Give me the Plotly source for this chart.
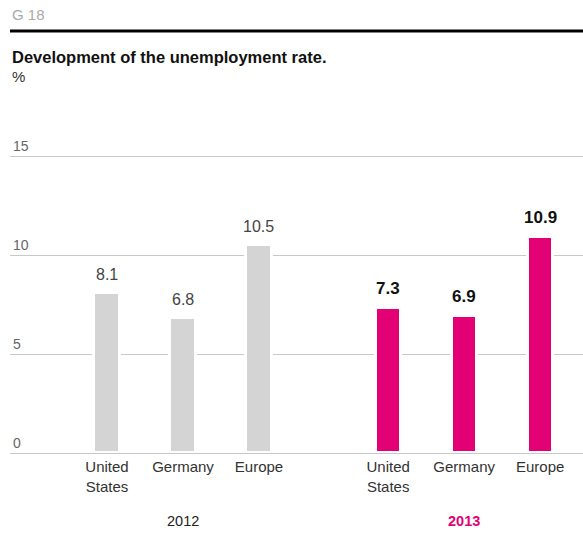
import plotly.graph_objects as go

categories = ["United<br>States", "Germany", "Europe"]
years = ["2012", "2013"]
values_2012 = [8.1, 6.8, 10.5]
values_2013 = [7.3, 6.9, 10.9]
y_ticks = [0, 5, 10, 15]

GREY = "#d4d4d4"
MAGENTA = "#e20074"
FONT = "Liberation Sans, Arial"
GROUP_OFFSET = 3.7

W, H = 583, 546
M_L, M_R, M_T, M_B = 10, 0, 136, 93
PLOT_H = H - M_T - M_B
PX_PER_UNIT = 19.8
Y_MAX = PLOT_H / PX_PER_UNIT

x2012 = [i for i in range(len(categories))]
x2013 = [i + GROUP_OFFSET for i in range(len(categories))]


def px_to_paper_x(px):
    return (px - M_L) / (W - M_L - M_R)


def px_to_paper_y(py):
    return (H - M_B - py) / PLOT_H


fig = go.Figure()
for xs, vals, col in [(x2012, values_2012, GREY), (x2013, values_2013, MAGENTA)]:
    fig.add_trace(go.Bar(x=xs, y=vals, width=0.33, marker=dict(color=col, line=dict(color="white", width=3)),
                         hoverinfo="skip", showlegend=False))

for xs, vals, bold in [(x2012, values_2012, False), (x2013, values_2013, True)]:
    for x, v in zip(xs, vals):
        fig.add_annotation(x=x, y=v, xref="x", yref="y", text=(f"<b>{v}</b>" if bold else f"{v}"),
                           showarrow=False, yanchor="bottom", yshift=8,
                           font=dict(family=FONT, size=17 if bold else 16, color="#111" if bold else "#444"))

for xs, yr, col, bold in [(x2012, years[0], "#222", False), (x2013, years[1], MAGENTA, True)]:
    fig.add_annotation(x=sum(xs) / len(xs), y=px_to_paper_y(521), xref="x", yref="paper",
                       text=(f"<b>{yr}</b>" if bold else yr), yanchor="middle",
                       showarrow=False, font=dict(family=FONT, size=14.5, color=col))

fig.update_layout(
    width=W, height=H,
    margin=dict(l=M_L, r=M_R, t=M_T, b=M_B),
    plot_bgcolor="white", paper_bgcolor="white",
    bargap=0,
    xaxis=dict(range=[-1.276, 6.263], tickvals=x2012 + x2013, ticktext=categories + categories,
               showgrid=False, zeroline=False, showline=True, linecolor="#c8c8c8", linewidth=1,
               layer="above traces", ticks="", tickfont=dict(family=FONT, size=15, color="#333"),
               fixedrange=True),
    yaxis=dict(range=[0, Y_MAX], tickvals=y_ticks, showgrid=True, gridcolor="#c8c8c8", gridwidth=1,
               zeroline=False, ticklabelposition="inside top", ticks="",
               tickfont=dict(family=FONT, size=14, color="#666"), showline=False, fixedrange=True),
)

fig.add_annotation(x=px_to_paper_x(10), y=px_to_paper_y(15), xref="paper", yref="paper", text="G 18",
                   showarrow=False, xanchor="left", yanchor="middle",
                   font=dict(family=FONT, size=15, color="#aaa"))
fig.add_shape(type="line", xref="paper", yref="paper", x0=px_to_paper_x(10), x1=px_to_paper_x(583),
              y0=px_to_paper_y(31), y1=px_to_paper_y(31), line=dict(color="black", width=3))
fig.add_annotation(x=px_to_paper_x(10), y=px_to_paper_y(57), xref="paper", yref="paper",
                   text="<b>Development of the unemployment rate.</b>", showarrow=False, xanchor="left",
                   yanchor="middle", font=dict(family=FONT, size=16.5, color="#111"))
fig.add_annotation(x=px_to_paper_x(10), y=px_to_paper_y(76), xref="paper", yref="paper", text="%",
                   showarrow=False, xanchor="left", yanchor="middle",
                   font=dict(family=FONT, size=15, color="#333"))

fig.write_html("out.html")
